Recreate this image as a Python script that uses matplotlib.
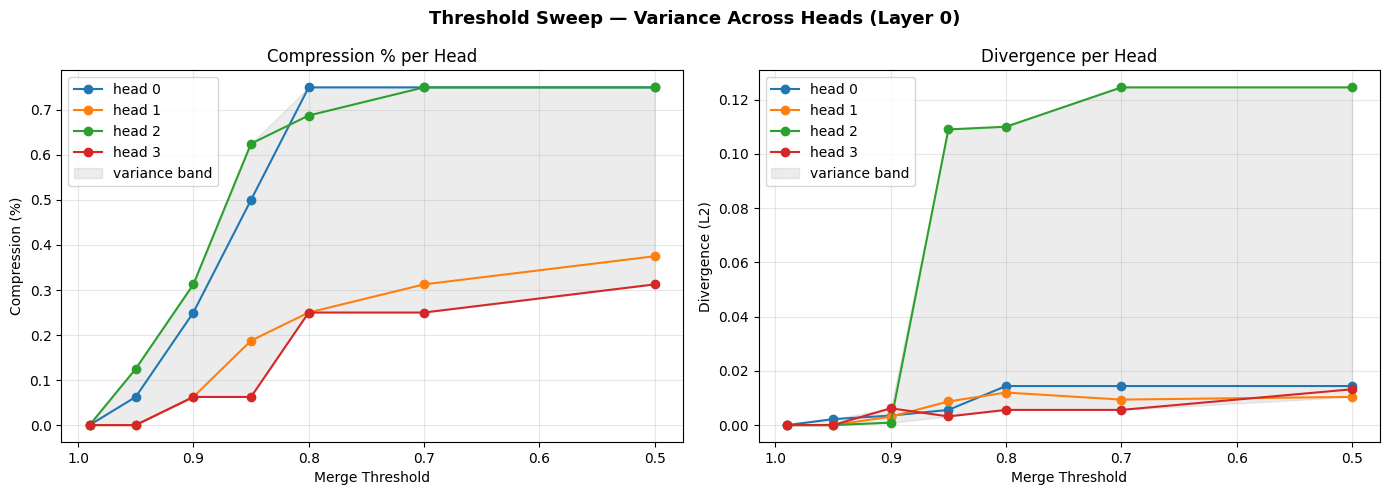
import numpy as np
import matplotlib
matplotlib.use("Agg")
import matplotlib.pyplot as plt

thresholds = [0.99, 0.95, 0.9, 0.85, 0.8, 0.7, 0.5]
heads = ["head 0", "head 1", "head 2", "head 3"]

compression = [
    [0.0, 0.0625, 0.25, 0.5, 0.75, 0.75, 0.75],
    [0.0, 0.0, 0.0625, 0.1875, 0.25, 0.3125, 0.375],
    [0.0, 0.125, 0.3125, 0.625, 0.6875, 0.75, 0.75],
    [0.0, 0.0, 0.0625, 0.0625, 0.25, 0.25, 0.3125],
]

divergence = [
    [0.0, 0.0022, 0.0035, 0.0056, 0.0144, 0.0144, 0.0144],
    [0.0, 0.0, 0.0031, 0.0087, 0.012, 0.0094, 0.0104],
    [0.0, 0.0, 0.0009, 0.109, 0.110, 0.1245, 0.1245],
    [0.0, 0.0, 0.0062, 0.0032, 0.0056, 0.0056, 0.0132],
]

fig, axes = plt.subplots(1, 2, figsize=(13.9, 4.95), dpi=100)

panels = [
    (axes[0], compression, "Compression % per Head", "Compression (%)"),
    (axes[1], divergence, "Divergence per Head", "Divergence (L2)"),
]

for ax, data, title, ylabel in panels:
    arr = np.array(data)
    for i, name in enumerate(heads):
        ax.plot(thresholds, arr[i], marker="o", label=name)
    # band between lowest and highest head at each threshold
    ax.fill_between(thresholds, arr.min(axis=0), arr.max(axis=0),
                    color="gray", alpha=0.15, label="variance band")
    ax.set_title(title)
    ax.set_xlabel("Merge Threshold")
    ax.set_ylabel(ylabel)
    ax.invert_xaxis()
    ax.grid(True, alpha=0.3)
    ax.legend(loc="upper left")

fig.suptitle("Threshold Sweep \u2014 Variance Across Heads (Layer 0)",
             fontsize=13, fontweight="bold")
plt.subplots_adjust(left=0.0441, right=0.993, top=0.8576, bottom=0.1071,
                    wspace=0.1218)
plt.savefig("out.png")
